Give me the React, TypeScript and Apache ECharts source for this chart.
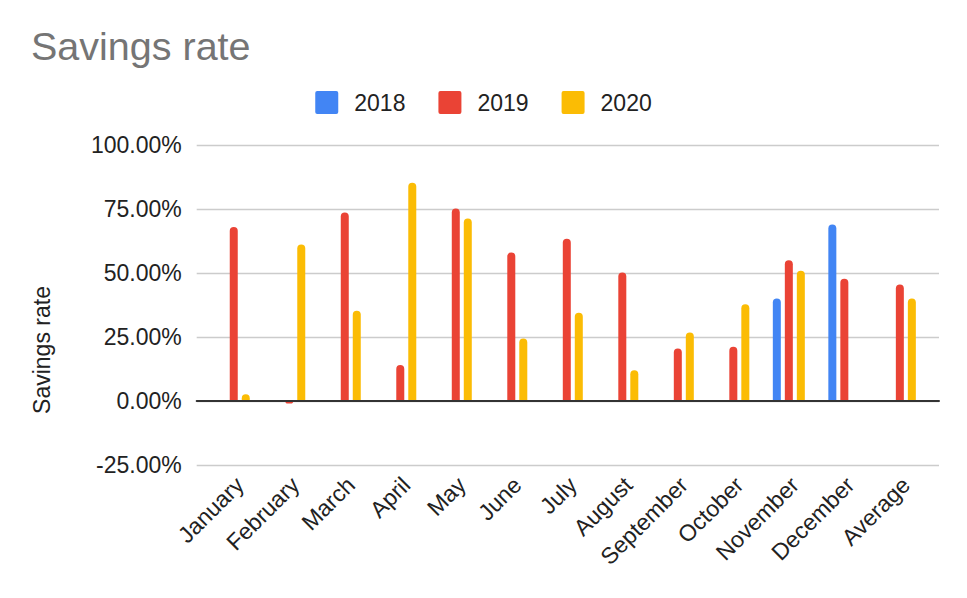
import React, { useEffect, useRef } from "react";
import * as echarts from "echarts";

const categories = [
  "January", "February", "March", "April", "May", "June", "July",
  "August", "September", "October", "November", "December", "Average",
];
const seriesNames = ["2018", "2019", "2020"];
const s2018 = [null, null, null, null, null, null, null, null, null, null, 40.0, 68.9, null];
const s2019 = [68.0, -1.0, 73.6, 14.1, 75.2, 58.0, 63.4, 50.2, 20.5, 21.2, 55.0, 47.8, 45.5];
const s2020 = [2.6, 61.1, 35.3, 85.3, 71.3, 24.4, 34.5, 12.0, 26.8, 37.8, 50.9, null, 40.0];
const colors = ["#4285F4", "#EA4335", "#FBBC04"];
const yMin = -25;
const yMax = 100;
const yStep = 25;

const FONT = "'Liberation Sans', Arial, sans-serif";
const LEGEND_ICON = "path://M2,0 H21 Q23,0 23,2 V21 Q23,23 21,23 H2 Q0,23 0,21 V2 Q0,0 2,0 Z";

export default function App() {
  const ref = useRef<HTMLDivElement>(null);
  useEffect(() => {
    if (!ref.current) return;
    const chart = echarts.init(ref.current, null, { renderer: "svg" });
    const allData = [s2018, s2019, s2020];
    const hiddenY = (gi: number) => ({
      gridIndex: gi,
      type: "value",
      min: yMin,
      max: yMax,
      interval: yStep,
      axisLabel: { show: false },
      axisLine: { show: false },
      axisTick: { show: false },
      splitLine: { show: false },
    });
    chart.setOption({
      animation: false,
      color: colors,
      textStyle: { fontFamily: FONT },
      legend: {
        data: seriesNames,
        left: "center",
        top: 86,
        itemWidth: 23,
        itemHeight: 23,
        itemGap: 33,
        icon: LEGEND_ICON,
        textStyle: { fontSize: 23, color: "#222", fontFamily: FONT, padding: [0, 0, 0, 11] },
      },
      graphic: [
        {
          type: "text",
          x: 31,
          y: 46,
          style: { text: "Savings rate", fontSize: 39.5, fill: "#757575", fontFamily: FONT, verticalAlign: "middle", align: "left" },
        },
        {
          type: "text",
          x: 41.5,
          y: 350,
          rotation: Math.PI / 2,
          style: { text: "Savings rate", fontSize: 23, fill: "#222", fontFamily: FONT, verticalAlign: "middle", align: "center" },
        },
      ],
      grid: [
        { left: 206, right: 39.4, top: 145, bottom: 133 },
        { left: 196.7, right: 28, top: 145, bottom: 133 },
        { left: 212, right: 33.4, top: 145, bottom: 133 },
      ],
      xAxis: [
        {
          gridIndex: 0,
          type: "category",
          data: categories,
          axisLine: { show: false },
          axisTick: { show: false },
          axisLabel: { show: false },
        },
        {
          gridIndex: 1,
          type: "category",
          data: [""],
          z: 5,
          axisLine: { show: true, onZero: true, lineStyle: { color: "#333", width: 2 } },
          axisTick: { show: false },
          axisLabel: { show: false },
        },
        {
          gridIndex: 2,
          type: "category",
          data: categories,
          axisLine: { show: false, onZero: false },
          axisTick: { show: false },
          axisLabel: { interval: 0, rotate: 45, fontSize: 23, color: "#222", fontFamily: FONT, margin: 16 },
        },
      ],
      yAxis: [
        hiddenY(0),
        {
          gridIndex: 1,
          type: "value",
          min: yMin,
          max: yMax,
          interval: yStep,
          axisLine: { show: false },
          axisTick: { show: false },
          axisLabel: {
            fontSize: 23,
            color: "#222",
            fontFamily: FONT,
            margin: 15,
            formatter: (v: number) => v.toFixed(2) + "%",
          },
          splitLine: { show: true, lineStyle: { color: "#cccccc", width: 1.3 } },
        },
        hiddenY(2),
      ],
      series: seriesNames.map((name, i) => ({
        name,
        type: "bar",
        xAxisIndex: 0,
        yAxisIndex: 0,
        barWidth: 8,
        barGap: "50%",
        itemStyle: { color: colors[i], borderRadius: [4, 4, 0, 0] },
        data: allData[i].map((v) =>
          v !== null && v < 0 ? { value: v, itemStyle: { borderRadius: [0, 0, 4, 4] } } : v
        ),
      })),
    });
    return () => chart.dispose();
  }, []);
  return (
    <div
      ref={ref}
      style={{ position: "fixed", left: 0, top: 0, width: 967, height: 598, background: "#fff" }}
    />
  );
}
